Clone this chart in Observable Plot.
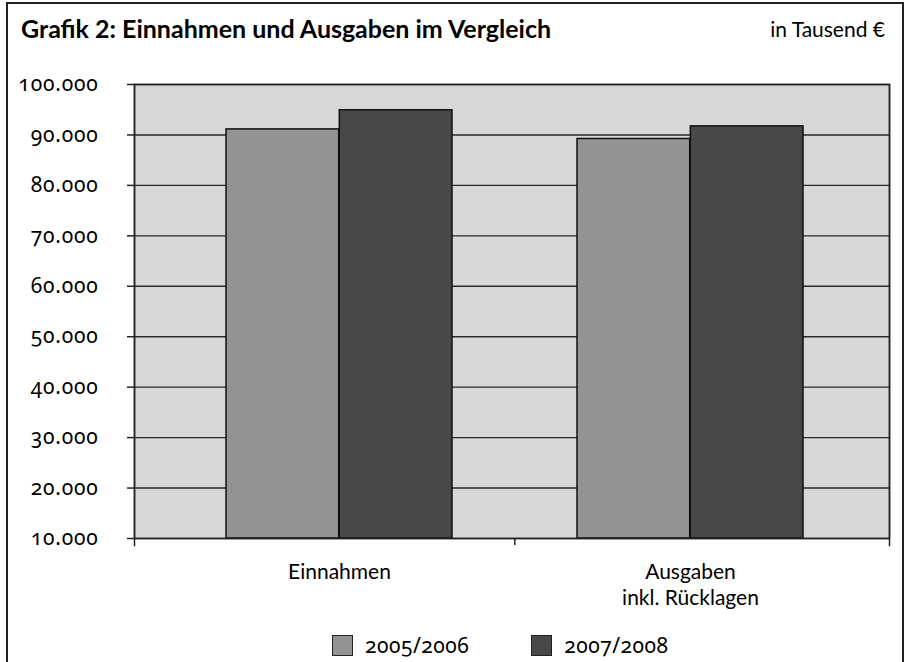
<!DOCTYPE html>
<html>
<head>
<meta charset="utf-8">
<script src="https://cdn.jsdelivr.net/npm/d3@7"></script>
<script src="https://cdn.jsdelivr.net/npm/@observablehq/plot@0.6"></script>
<style>
  body { margin: 0; background: #fff; }
  #page { position: relative; width: 905px; height: 662px; overflow: hidden;
          font-family: Lato, "Open Sans", sans-serif; color: #000; }
  #border { position: absolute; left: 6px; top: 2px; width: 898px; height: 720px;
            border: 2px solid #222; box-sizing: border-box; }
  #title { position: absolute; left: 21px; top: 16px; font-size: 25px; font-weight: 700; line-height: 25px; white-space: nowrap; }
  #unit { position: absolute; right: 20px; top: 18px; font-size: 21px; line-height: 21px; white-space: nowrap; }
  #chart { position: absolute; left: 0; top: 0; }
  #legend { position: absolute; top: 631px; left: 332px; display: flex; align-items: center; font-size: 21px; letter-spacing: 0.5px;
            font-family: "Noto Sans", sans-serif; font-variant-numeric: oldstyle-nums; font-feature-settings: "onum" 1; }
  .item { display: flex; align-items: center; }
  .sw { width: 21px; height: 21px; box-sizing: border-box; border: 1.5px solid #222; margin-right: 12px; }
  #chart svg g[aria-label="y-axis tick label"] { font-family: "Noto Sans", sans-serif; font-variant-numeric: oldstyle-nums; font-feature-settings: "onum" 1; letter-spacing: 0.8px; }
</style>
</head>
<body>
<div id="page">
  <div id="border"></div>
  <div id="title">Grafik 2: Einnahmen und Ausgaben im Vergleich</div>
  <div id="unit">in Tausend €</div>
  <div id="chart"></div>
  <div id="legend"></div>
</div>
<script>
const categories = ["Einnahmen", "Ausgaben\ninkl. Rücklagen"];
const years = ["2005/2006", "2007/2008"];
const values2005 = [91100, 89200];
const values2007 = [94900, 91700];
const yTicks = [10000, 20000, 30000, 40000, 50000, 60000, 70000, 80000, 90000, 100000];
const yMin = 10000;
const yMax = 100000;
const colors = ["#939393", "#484848"];

const rows = categories.flatMap((c, i) => [
  {category: c, year: years[0], value: values2005[i]},
  {category: c, year: years[1], value: values2007[i]}
]);

const de = d3.formatLocale({decimal: ",", thousands: ".", grouping: [3], currency: ["", " €"]});
const fmt = de.format(",d");

const xRange = [226, 804];
const padInner = 0.355;
const step = (xRange[1] - xRange[0]) / (categories.length - padInner);
const bw = step * (1 - padInner);

const chart = Plot.plot({
  width: 905,
  height: 612,
  marginTop: 84,
  marginBottom: 74,
  marginLeft: 134,
  marginRight: 16,
  style: {fontFamily: "Lato, 'Open Sans', sans-serif", fontSize: "19px", color: "#000",
          background: "transparent", overflow: "visible"},
  x: {type: "band", domain: categories, range: xRange, paddingInner: padInner, paddingOuter: 0, label: null},
  y: {domain: [yMin, yMax], label: null},
  color: {domain: years, range: colors},
  marks: [
    Plot.frame({fill: "#d8d8d8"}),
    Plot.ruleY(yTicks, {stroke: "#2a2a2a", strokeWidth: 1.4}),
    Plot.barY(rows.filter(d => d.year === years[0]), {x: "category", y1: yMin, y2: "value", fill: "year",
      insetRight: bw / 2, stroke: "#111", strokeWidth: 1.5}),
    Plot.barY(rows.filter(d => d.year === years[1]), {x: "category", y1: yMin, y2: "value", fill: "year",
      insetLeft: bw / 2, stroke: "#111", strokeWidth: 1.5}),
    Plot.frame({stroke: "#222", strokeWidth: 1.5}),
    Plot.frame({anchor: "left", insetBottom: -7, stroke: "#222", strokeWidth: 1.5}),
    Plot.frame({anchor: "right", insetBottom: -7, stroke: "#222", strokeWidth: 1.5}),
    Plot.ruleX([categories[1]], {x: d => d, y1: yMin, y2: yMin, insetBottom: -7, dx: -step / 2, stroke: "#222", strokeWidth: 1.5}),
    Plot.axisY({ticks: yTicks, tickSize: 7, tickPadding: 29, tickFormat: fmt, stroke: "#222", strokeWidth: 1.5, fontSize: 21}),
    Plot.axisX({tickSize: 0, tickPadding: 23, lineHeight: 1.2, fontSize: 21})
  ]
});
document.getElementById("chart").appendChild(chart);

const legend = document.getElementById("legend");
years.forEach((y, i) => {
  const item = document.createElement("div");
  item.className = "item";
  if (i > 0) item.style.marginLeft = "62px";
  const sw = document.createElement("div");
  sw.className = "sw";
  sw.style.background = colors[i];
  const t = document.createElement("span");
  t.textContent = y;
  item.appendChild(sw);
  item.appendChild(t);
  legend.appendChild(item);
});
</script>
</body>
</html>
